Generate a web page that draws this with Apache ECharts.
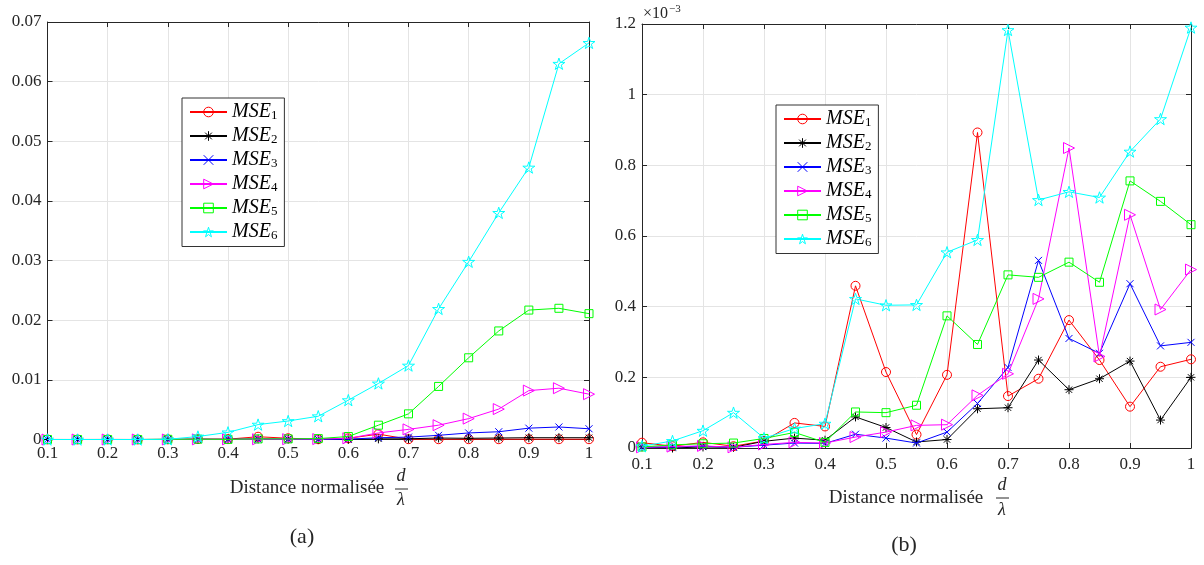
<!DOCTYPE html>
<html>
<head>
<meta charset="utf-8">
<script src="https://cdn.jsdelivr.net/npm/echarts@6/dist/echarts.min.js"></script>
<style>
html,body{margin:0;padding:0;background:#fff;}
#c{width:1204px;height:565px;}
</style>
</head>
<body>
<div id="c"></div>
<script>
// ---- data ----
const xs = [0.1,0.15,0.2,0.25,0.3,0.35,0.4,0.45,0.5,0.55,0.6,0.65,0.7,0.75,0.8,0.85,0.9,0.95,1.0];
const seriesNames = ['MSE1','MSE2','MSE3','MSE4','MSE5','MSE6'];

// (a) values
const a_MSE1 = [0.00001,0.000005,0.000015,0.000005,0.00002,0.00007,0.00006,0.00046,0.00021,0.00004,0.0002,0.0009,0.00005,0.00005,0.00005,0.00005,0.00005,0.00005,0.00005];
const a_MSE2 = [0,0,0,0,0.00002,0.00003,0.00002,0.00009,0.00006,0.00002,0.00002,0.00011,0.00012,0.00025,0.0002,0.00025,0.0003,0.0003,0.0003];
const a_MSE3 = [0,0,0,0,0,0.00002,0.00002,0.00004,0.00003,0.00002,0.00005,0.0003,0.0004,0.0007,0.0011,0.0013,0.0019,0.0021,0.0018];
const a_MSE4 = [0,0,0,0,0,0.00002,0.00002,0.00004,0.00005,0.00007,0.0002,0.0011,0.0017,0.0024,0.0035,0.0051,0.0082,0.0086,0.0076];
const a_MSE5 = [0,0,0,0,0.00003,0.00005,0.00002,0.0001,0.0001,0.00015,0.0005,0.0024,0.0043,0.0089,0.0137,0.0182,0.0217,0.0220,0.0211];
const a_MSE6 = [0,0,0,0,0.00003,0.0005,0.0012,0.0025,0.0031,0.0039,0.0066,0.0094,0.0124,0.0219,0.0298,0.038,0.0456,0.063,0.0665];

// (b) values, in units of 1e-3
const b_MSE1 = [0.015,0.005,0.016,0.005,0.02,0.071,0.061,0.459,0.215,0.038,0.207,0.893,0.147,0.196,0.362,0.249,0.117,0.23,0.251];
const b_MSE2 = [0.003,0,0.003,0.002,0.019,0.028,0.022,0.088,0.058,0.017,0.024,0.111,0.114,0.249,0.165,0.196,0.246,0.079,0.2];
const b_MSE3 = [0.002,0.003,0.005,0.002,0.008,0.014,0.013,0.039,0.028,0.014,0.045,0.126,0.228,0.531,0.31,0.268,0.465,0.289,0.299];
const b_MSE4 = [0.002,0.004,0.006,0.002,0.01,0.016,0.014,0.031,0.045,0.064,0.066,0.149,0.21,0.422,0.849,0.259,0.66,0.392,0.505];
const b_MSE5 = [0.003,0.009,0.012,0.014,0.027,0.044,0.016,0.102,0.1,0.121,0.374,0.293,0.49,0.483,0.526,0.469,0.756,0.698,0.632];
const b_MSE6 = [0.005,0.02,0.049,0.1,0.028,0.055,0.069,0.422,0.404,0.405,0.554,0.589,1.183,0.702,0.725,0.709,0.839,0.931,1.19];

const xTicks = {min: 0.1, max: 1.0, interval: 0.1};
const yTicksA = {min: 0, max: 0.07, interval: 0.01};
const yTicksB = {min: 0, max: 1.2, interval: 0.2};

// ---- styling ----
const FONT = '"Liberation Serif", "DejaVu Serif", serif';
const AX = '#262626';
const GRIDC = '#e4e4e4';
const colors = ['#ff0000','#000000','#0000ff','#ff00ff','#00ff00','#00ffff'];
const STAR = 'path://M0,-1L0.2245,-0.309L0.951,-0.309L0.363,0.118L0.588,0.809L0,0.382L-0.588,0.809L-0.363,0.118L-0.951,-0.309L-0.2245,-0.309Z';
const ASTER = 'path://M-1,0L1,0M0,-1L0,1M-0.7,-0.7L0.7,0.7M-0.7,0.7L0.7,-0.7';
const XMARK = 'path://M-1,-1L1,1M-1,1L1,-1';
const symbols = [
  {symbol:'circle', size:9, rot:0},
  {symbol:ASTER, size:9, rot:0},
  {symbol:XMARK, size:7, rot:0},
  {symbol:'triangle', size:11, rot:-90},
  {symbol:'rect', size:8, rot:0},
  {symbol:STAR, size:12, rot:0}
];
const CLEAR = 'rgba(255,255,255,0)';

function pairs(vals){ return xs.map((x,i)=>[x, vals[i]]); }

function mkSeries(name, idx, vals, gi){
  return {
    name: name, type:'line',
    xAxisIndex: gi*2, yAxisIndex: gi*2,
    data: pairs(vals),
    symbol: symbols[idx].symbol,
    symbolSize: symbols[idx].size,
    symbolRotate: symbols[idx].rot,
    symbolKeepAspect: true,
    showAllSymbol: true,
    lineStyle: {color: colors[idx], width: 1},
    itemStyle: {color: CLEAR, borderColor: colors[idx], borderWidth: 1},
    emphasis: {disabled: true},
    z: 2 + idx
  };
}

function xMain(gi){
  return {type:'value', gridIndex: gi, min:xTicks.min, max:xTicks.max, interval:xTicks.interval,
    axisLine:{show:true, onZero:false, lineStyle:{color:AX, width:1}},
    axisTick:{show:true, inside:true, length:5, lineStyle:{color:AX}},
    axisLabel:{color:AX, fontFamily:FONT, fontSize:17, margin: gi===0 ? 6 : 8},
    splitLine:{show:true, lineStyle:{color:GRIDC, width:1}}};
}
function xTop(gi){
  return {type:'value', gridIndex: gi, position:'top', min:xTicks.min, max:xTicks.max, interval:xTicks.interval,
    axisLine:{show:true, onZero:false, lineStyle:{color:AX, width:1}},
    axisTick:{show:true, inside:true, length:5, lineStyle:{color:AX}},
    axisLabel:{show:false}, splitLine:{show:false}};
}
function yMain(gi, t){
  return {type:'value', gridIndex: gi, min:t.min, max:t.max, interval:t.interval,
    axisLine:{show:true, onZero:false, lineStyle:{color:AX, width:1}},
    axisTick:{show:true, inside:true, length:5, lineStyle:{color:AX}},
    axisLabel:{color:AX, fontFamily:FONT, fontSize:17, margin:6},
    splitLine:{show:true, lineStyle:{color:GRIDC, width:1}}};
}
function yRight(gi, t){
  return {type:'value', gridIndex: gi, position:'right', min:t.min, max:t.max, interval:t.interval,
    axisLine:{show:true, onZero:false, lineStyle:{color:AX, width:1}},
    axisTick:{show:true, inside:true, length:5, lineStyle:{color:AX}},
    axisLabel:{show:false}, splitLine:{show:false}};
}

function mkLegend(left, top){
  return {
    orient:'vertical', left:left, top:top,
    data: seriesNames.map((n,i)=>({name:n, itemStyle:{color:CLEAR, borderColor:colors[i], borderWidth:1}})),
    itemStyle:{color:CLEAR},
    backgroundColor:'#fff', borderColor:'#333', borderWidth:1,
    padding:[4,7,4,7],
    itemWidth:37, itemHeight:12, itemGap:3.5,
    formatter: n => '{m|MSE}{s|' + n.slice(3) + '}',
    textStyle:{
      color:'#000',
      rich:{
        m:{fontFamily:FONT, fontStyle:'italic', fontSize:20, color:'#000'},
        s:{fontFamily:FONT, fontSize:13, color:'#000', padding:[8,0,0,0]}
      }
    },
    selectedMode:false
  };
}

const seriesA = [a_MSE1,a_MSE2,a_MSE3,a_MSE4,a_MSE5,a_MSE6];
const seriesB = [b_MSE1,b_MSE2,b_MSE3,b_MSE4,b_MSE5,b_MSE6];
const allSeries = [];
seriesA.forEach((v,i)=>allSeries.push(mkSeries(seriesNames[i], i, v, 0)));
seriesB.forEach((v,i)=>allSeries.push(mkSeries(seriesNames[i], i, v, 1)));

function txt(x, y, s, font){
  return {type:'text', x:x, y:y, style:{text:s, font:font, fill:AX, textAlign:'center', textVerticalAlign:'middle'}};
}

const chart = echarts.init(document.getElementById('c'), null, {renderer:'canvas'});
chart.setOption({
  animation:false,
  backgroundColor:'#fff',
  grid:[
    {left:47.5, right:615, top:22, bottom:125.5, containLabel:false},
    {left:642, right:13, top:24, bottom:117, containLabel:false}
  ],
  xAxis:[xMain(0), xTop(0), xMain(1), xTop(1)],
  yAxis:[yMain(0, yTicksA), yRight(0, yTicksA), yMain(1, yTicksB), yRight(1, yTicksB)],
  legend:[mkLegend(182, 98), mkLegend(776, 105)],
  series: allSeries,
  graphic: [
    txt(307, 488, 'Distance normalisée', '19px ' + FONT),
    txt(401, 476, 'd', 'italic 18px ' + FONT),
    {type:'line', shape:{x1:395, y1:489, x2:408, y2:489}, style:{stroke:AX, lineWidth:1}},
    txt(401, 500, 'λ', 'italic 18px ' + FONT),
    txt(906, 498, 'Distance normalisée', '19px ' + FONT),
    txt(1002, 485, 'd', 'italic 18px ' + FONT),
    {type:'line', shape:{x1:996, y1:498, x2:1009, y2:498}, style:{stroke:AX, lineWidth:1}},
    txt(1002, 510, 'λ', 'italic 18px ' + FONT),
    txt(302, 537, '(a)', '22px ' + FONT),
    txt(904, 545, '(b)', '22px ' + FONT),
    {type:'text', x:643, y:4, style:{
      text:'{a|×10}{b|−3}', font:'16px ' + FONT, fill:AX,
      rich:{a:{fontFamily:FONT, fontSize:16, color:AX}, b:{fontFamily:FONT, fontSize:11, color:AX, padding:[0,0,8,1]}}
    }}
  ]
});
</script>
</body>
</html>
